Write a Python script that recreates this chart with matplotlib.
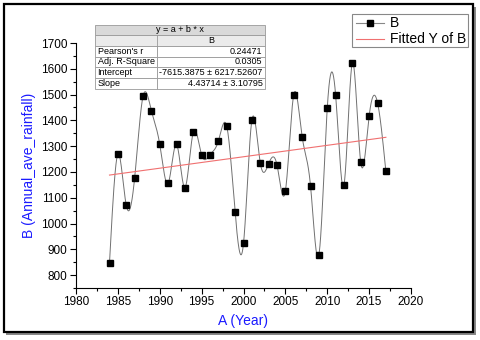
import numpy as np
import matplotlib
matplotlib.use("Agg")
import matplotlib.pyplot as plt
from matplotlib.patches import Rectangle
from matplotlib.ticker import MultipleLocator

plt.rcParams['font.family'] = ['Liberation Sans', 'DejaVu Sans']

years = [1984, 1985, 1986, 1987, 1988, 1989, 1990, 1991, 1992, 1993, 1994,
         1995, 1996, 1997, 1998, 1999, 2000, 2001, 2002, 2003, 2004, 2005,
         2006, 2007, 2008, 2009, 2010, 2011, 2012, 2013, 2014, 2015, 2016, 2017]
rainfall = [848, 1269, 1071, 1176, 1493, 1438, 1307, 1156, 1307, 1139, 1354,
            1266, 1267, 1320, 1377, 1043, 923, 1401, 1236, 1232, 1227, 1126,
            1500, 1337, 1147, 878, 1447, 1498, 1150, 1623, 1237, 1416, 1469, 1202]
intercept = -7615.3875
slope = 4.43714
table_rows = ["Pearson's r", "Adj. R-Square", "Intercept", "Slope"]
table_vals = ["0.24471", "0.0305", "-7615.3875 \u00b1 6217.52607", "4.43714 \u00b1 3.10795"]


def natural_spline(x, y, xs):
    x = np.asarray(x, float); y = np.asarray(y, float)
    n = len(x); h = np.diff(x)
    A = np.zeros((n, n)); r = np.zeros(n)
    A[0, 0] = A[-1, -1] = 1
    for i in range(1, n - 1):
        A[i, i - 1] = h[i - 1]; A[i, i] = 2 * (h[i - 1] + h[i]); A[i, i + 1] = h[i]
        r[i] = 3 * ((y[i + 1] - y[i]) / h[i] - (y[i] - y[i - 1]) / h[i - 1])
    c = np.linalg.solve(A, r)
    b = (y[1:] - y[:-1]) / h - h * (2 * c[:-1] + c[1:]) / 3
    d = (c[1:] - c[:-1]) / (3 * h)
    idx = np.clip(np.searchsorted(x, xs) - 1, 0, n - 2)
    dx = xs - x[idx]
    return y[idx] + b[idx] * dx + c[idx] * dx ** 2 + d[idx] * dx ** 3


W, H = 480, 340
fig = plt.figure(figsize=(4.8, 3.4), dpi=100)


def fx(px):
    return px / W


def fy(py):
    return 1 - py / H


# frame with shadow
fig.patches.append(Rectangle((fx(6), fy(335)), fx(470), 328 / H, transform=fig.transFigure,
                             facecolor='#888888', edgecolor='none', zorder=0))
fig.patches.append(Rectangle((fx(3.5), fy(331.5)), fx(469.5), 328 / H, transform=fig.transFigure,
                             facecolor='white', edgecolor='black', linewidth=1.6, zorder=0.5))

ax = fig.add_axes([fx(76), fy(288), fx(411 - 76), (288 - 43) / H])
ax.set_zorder(1)
ax.patch.set_alpha(0)

xs = np.linspace(years[0], years[-1], 1200)
ax.plot(xs, natural_spline(years, rainfall, xs), color='#707070', lw=0.7, zorder=2)
ax.plot(years, rainfall, ls='none', marker='s', ms=5, color='black', zorder=3)
fit_x = np.array([years[0], years[-1]], float)
ax.plot(fit_x, intercept + slope * fit_x, color='#f07070', lw=0.8, zorder=2)

ax.set_xlim(1980, 2020)
ax.set_ylim(750, 1700)
ax.xaxis.set_major_locator(MultipleLocator(5))
ax.xaxis.set_minor_locator(MultipleLocator(2.5))
ax.yaxis.set_minor_locator(MultipleLocator(50))
ax.set_yticks([800, 900, 1000, 1100, 1200, 1300, 1400, 1500, 1600, 1700])
for s in ['top', 'right']:
    ax.spines[s].set_visible(False)
for s in ['left', 'bottom']:
    ax.spines[s].set_linewidth(0.8)
ax.tick_params(which='major', direction='out', length=4, width=0.8, labelsize=8.5, pad=2)
ax.tick_params(which='minor', direction='out', length=2.5, width=0.8)
ax.set_xlabel('A (Year)', color='#1a1aff', fontsize=10, labelpad=4)
ax.set_ylabel('B (Annual_ave_rainfall)', color='#1a1aff', fontsize=10, labelpad=4)

# legend box
fig.patches.append(Rectangle((fx(352), fy(47)), fx(116), 33 / H, transform=fig.transFigure,
                             facecolor='white', edgecolor='#888888', linewidth=0.8, zorder=5))
fig.lines.append(plt.Line2D([fx(356), fx(384)], [fy(23), fy(23)], transform=fig.transFigure,
                            color='#888888', lw=0.8, zorder=6))
fig.lines.append(plt.Line2D([fx(370)], [fy(23)], transform=fig.transFigure, marker='s', ms=4.5,
                            color='black', ls='none', zorder=7))
fig.lines.append(plt.Line2D([fx(356), fx(384)], [fy(39), fy(39)], transform=fig.transFigure,
                            color='#f07070', lw=0.8, zorder=6))
fig.text(fx(390), fy(23), 'B', fontsize=10, va='center', ha='left', zorder=8)
fig.text(fx(390), fy(39), 'Fitted Y of B', fontsize=10, va='center', ha='left', zorder=8)

# stats table
tl, tm, tr = 95, 157, 265
rows_y = [25, 35, 46, 56.7, 67.3, 78, 88.7]
fs = 6.5
fig.patches.append(Rectangle((fx(tl), fy(rows_y[1])), fx(tr - tl), (rows_y[1] - rows_y[0]) / H,
                             transform=fig.transFigure, facecolor='#d9d9d9', edgecolor='#999999',
                             linewidth=0.6, zorder=5))
fig.patches.append(Rectangle((fx(tl), fy(rows_y[2])), fx(tr - tl), (rows_y[2] - rows_y[1]) / H,
                             transform=fig.transFigure, facecolor='#ebebeb', edgecolor='#999999',
                             linewidth=0.6, zorder=5))
for i in range(4):
    y0, y1 = rows_y[2 + i], rows_y[3 + i]
    for (a, b) in [(tl, tm), (tm, tr)]:
        fig.patches.append(Rectangle((fx(a), fy(y1)), fx(b - a), (y1 - y0) / H,
                                     transform=fig.transFigure, facecolor='white',
                                     edgecolor='#999999', linewidth=0.6, zorder=5))
    yc = (y0 + y1) / 2
    fig.text(fx(tl + 2.5), fy(yc), table_rows[i], fontsize=fs, va='center', ha='left', zorder=8)
    fig.text(fx(tr - 2.5), fy(yc), table_vals[i], fontsize=fs, va='center', ha='right', zorder=8)
fig.lines.append(plt.Line2D([fx(tm), fx(tm)], [fy(rows_y[2]), fy(rows_y[1])], transform=fig.transFigure,
                            color='#999999', lw=0.6, zorder=6))
fig.text(fx((tl + tr) / 2), fy((rows_y[0] + rows_y[1]) / 2), 'y = a + b * x', fontsize=fs,
         va='center', ha='center', zorder=8)
fig.text(fx((tm + tr) / 2), fy((rows_y[1] + rows_y[2]) / 2), 'B', fontsize=fs,
         va='center', ha='center', zorder=8)

fig.savefig('out.png', dpi=100)
